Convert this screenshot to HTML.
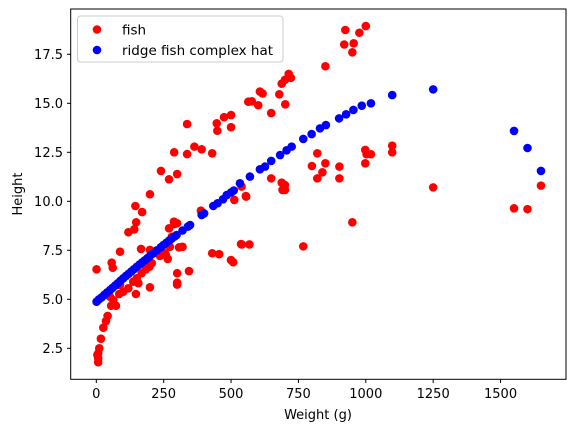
<!DOCTYPE html>
<html><head><meta charset="utf-8"><style>
html,body{margin:0;padding:0;background:#fff;}
svg{display:block;font-family:"DejaVu Sans","Liberation Sans",sans-serif;}
</style></head><body>
<svg id="chart" width="576" height="432" xmlns="http://www.w3.org/2000/svg">
<rect width="576" height="432" fill="#fff"/>
<g id="fishMarks"></g>
<g id="ridgeMarks"></g>
<rect x="70.7" y="9" width="495.3" height="370.3" fill="none" stroke="#000" stroke-width="1"/>
<g id="xticks"></g>
<g id="yticks"></g>
<text x="318" y="419" font-size="13" text-anchor="middle" fill="#000">Weight (g)</text>
<text transform="translate(22,194) rotate(-90)" font-size="13" text-anchor="middle" fill="#000">Height</text>
<g>
<rect x="77.5" y="16" width="205.5" height="46" rx="3" fill="#fff" fill-opacity="0.8" stroke="#ccc" stroke-width="1"/>
<circle cx="97" cy="29.5" r="4.3" fill="#ff0000"/>
<text x="122" y="34.5" font-size="13.5" fill="#000">fish</text>
<circle cx="97" cy="50" r="4.3" fill="#0000ff"/>
<text x="122" y="55" font-size="13.5" fill="#000">ridge fish complex hat</text>
</g>
</svg>
<script>
const fishWeight=[924,976,1000,920,955,950,850,714,722,688,700,607,617,577,601,679,701,649,820,800,850,839,820,902,902,998,1003,1019,998,1098,1098,1250,1550,1600,1650,649,688,700,691,700,555,539,950,768,540,568,
564,500,474,447,449,500,337,289,337,364,391,430,240,270,300,199,145,170,148,119,141,88,57,61,1,166,199,388,288,300,270,307,320,258,265,512,556,430,456,500,508,537,300,300,300,344,199,147,85,73,55,42,36,26,17,11,7,7,7,4,
88,100,119,137,150,168,184,197,156,51,63,206,236,255,273,290,280];
const fishHeight=[18.74,18.6,18.94,18.0,18.06,17.6,16.89,16.5,16.3,16.0,16.2,15.6,15.5,15.1,14.9,15.46,14.95,14.5,12.45,11.8,11.94,11.48,11.17,11.77,11.17,12.62,12.4,12.4,11.94,12.84,12.5,10.71,9.64,9.6,10.8,11.17,10.95,10.83,10.58,10.58,10.27,10.75,8.93,7.7,7.8,7.8,
15.08,14.4,14.29,13.98,13.6,13.78,13.94,12.5,12.41,12.79,12.65,12.45,11.55,11.12,11.39,10.36,9.76,9.45,8.93,8.42,8.57,7.43,6.87,6.61,6.53,7.57,7.52,9.52,8.96,8.88,8.62,7.65,7.68,7.26,7.06,10.07,10.24,7.35,7.30,7.0,6.89,7.82,6.33,5.85,5.75,6.44,5.61,5.27,5.27,4.67,4.67,4.15,3.89,3.55,2.99,2.5,2.24,2.0,1.79,2.16,
5.73,5.39,5.56,5.9,6.07,6.33,6.53,6.66,5.82,5.13,4.96,6.84,7.21,7.35,7.68,8.84,8.19];
const ridgeWeight=[1,10,20,30,40,51,60,70,80,90,100,110,120,130,140,150,160,170,180,190,199,210,225,240,249,260,270,280,290,298,320,340,348,391,400,434,450,470,484,500,510,533,570,607,626,649,682,706,725,768,799,830,852,901,927,954,985,1019,1098,1250,1550,1600,1650];
const ridgeHeight=[4.88,5.0,5.1,5.23,5.35,5.47,5.58,5.7,5.82,5.95,6.07,6.19,6.3,6.42,6.54,6.66,6.77,6.88,6.99,7.1,7.21,7.33,7.5,7.66,7.77,7.88,7.99,8.1,8.2,8.28,8.51,8.71,8.79,9.3,9.38,9.76,9.9,10.1,10.32,10.45,10.55,10.92,11.26,11.63,11.77,12.06,12.36,12.6,12.79,13.18,13.43,13.72,13.89,14.23,14.44,14.66,14.88,15.0,15.42,15.71,13.59,12.72,11.55];
const xTickValues=[0,250,500,750,1000,1250,1500];
const xTickLabels=["0","250","500","750","1000","1250","1500"];
const yTickValues=[2.5,5.0,7.5,10.0,12.5,15.0,17.5];
const yTickLabels=["2.5","5.0","7.5","10.0","12.5","15.0","17.5"];

const NS="http://www.w3.org/2000/svg";
function xScale(w){return 96.3+0.2695*w;}
function yScale(h){return 299.3-(h-5)*19.6;}
function mk(tag,attrs){const e=document.createElementNS(NS,tag);for(const k in attrs)e.setAttribute(k,attrs[k]);return e;}

const fg=document.getElementById('fishMarks');
for(let i=0;i<fishWeight.length;i++){
  const c=mk('circle',{cx:xScale(fishWeight[i]),cy:yScale(fishHeight[i]),r:4.3,fill:'#ff0000'});
  
  
  fg.appendChild(c);
}
const rg=document.getElementById('ridgeMarks');
for(let i=0;i<ridgeWeight.length;i++){
  const c=mk('circle',{cx:xScale(ridgeWeight[i]),cy:yScale(ridgeHeight[i]),r:4.3,fill:'#0000ff'});
  
  
  rg.appendChild(c);
}
const xg=document.getElementById('xticks');
for(let i=0;i<xTickValues.length;i++){
  const x=xScale(xTickValues[i]);
  const l=mk('line',{x1:x,x2:x,y1:379.3,y2:383,stroke:'#000','stroke-width':1});
  
  
  xg.appendChild(l);
  const t=mk('text',{x:x,y:398,'font-size':13,'text-anchor':'middle',fill:'#000'});
  
  
  t.textContent=xTickLabels[i];
  xg.appendChild(t);
}
const yg=document.getElementById('yticks');
for(let i=0;i<yTickValues.length;i++){
  const y=yScale(yTickValues[i]);
  const l=mk('line',{x1:67,x2:70.7,y1:y,y2:y,stroke:'#000','stroke-width':1});
  
  
  yg.appendChild(l);
  const t=mk('text',{x:63,y:y+4.5,'font-size':13,'text-anchor':'end',fill:'#000'});
  
  
  t.textContent=yTickLabels[i];
  yg.appendChild(t);
}
</script>
</body></html>
